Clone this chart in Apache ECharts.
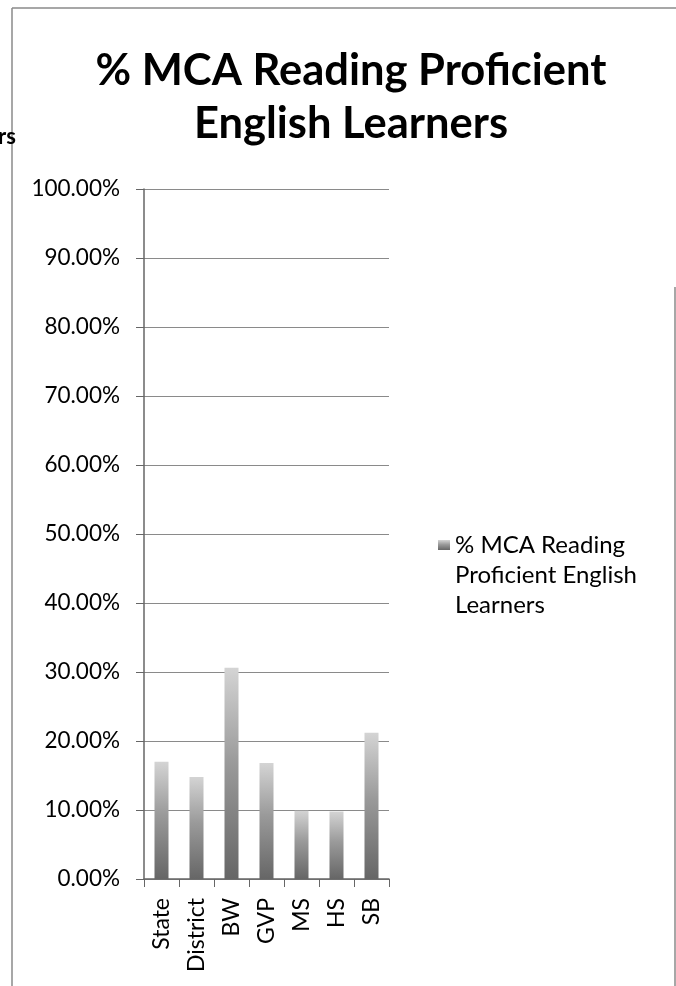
<!DOCTYPE html>
<html>
<head>
<meta charset="utf-8">
<script src="https://cdn.jsdelivr.net/npm/echarts@6/dist/echarts.min.js"></script>
<style>
html,body{margin:0;padding:0;background:#fff;}
#chart{width:676px;height:986px;}
</style>
</head>
<body>
<div id="chart"></div>
<script>
const categories = ['State', 'District', 'BW', 'GVP', 'MS', 'HS', 'SB'];
const values = [0.170, 0.148, 0.306, 0.168, 0.099, 0.098, 0.212];
const seriesName = '% MCA Reading Proficient English Learners';
const titleText = '% MCA Reading Proficient\nEnglish Learners';
const legendText = '% MCA Reading\nProficient English\nLearners';

const FONT = 'Lato, "Open Sans", sans-serif';
const chart = echarts.init(document.getElementById('chart'), null, {renderer: 'canvas'});

chart.setOption({
  backgroundColor: '#ffffff',
  animation: false,
  title: {
    text: titleText,
    left: 346,
    textAlign: 'center',
    top: 39,
    textStyle: {
      fontFamily: FONT,
      fontWeight: 'bold',
      fontSize: 43.5,
      lineHeight: 53,
      color: '#000'
    }
  },
  legend: {
    orient: 'vertical',
    left: 438,
    top: 470,
    padding: 0,
    icon: 'rect',
    itemWidth: 12,
    itemHeight: 10,
    formatter: () => '\n\n' + legendText,
    textStyle: {
      fontFamily: FONT,
      fontSize: 24,
      lineHeight: 30,
      color: '#000'
    },
    data: [seriesName]
  },
  grid: {
    left: 144,
    right: 287,
    top: 189,
    bottom: 107,
    containLabel: false
  },
  xAxis: {
    type: 'category',
    data: categories,
    axisLine: {lineStyle: {color: '#666', width: 1.5}},
    axisTick: {show: true, length: 8, lineStyle: {color: '#666'}},
    axisLabel: {
      rotate: 90,
      margin: 19,
      fontFamily: FONT,
      fontSize: 23,
      color: '#000'
    }
  },
  yAxis: {
    type: 'value',
    min: 0,
    max: 1,
    interval: 0.1,
    axisLine: {show: true, lineStyle: {color: '#666', width: 1.5}},
    axisTick: {show: true, length: 8, lineStyle: {color: '#666'}},
    splitLine: {show: true, lineStyle: {color: '#8a8a8a', width: 1.2}},
    axisLabel: {
      margin: 24,
      fontFamily: FONT,
      fontSize: 22.5,
      color: '#000',
      formatter: v => (v * 100).toFixed(2) + '%'
    }
  },
  series: [{
    name: seriesName,
    type: 'bar',
    data: values,
    barWidth: 14,
    itemStyle: {
      color: new echarts.graphic.LinearGradient(0, 0, 0, 1, [
        {offset: 0, color: '#d4d4d4'},
        {offset: 0.45, color: '#9a9a9a'},
        {offset: 1, color: '#666666'}
      ])
    }
  }],
  graphic: [
    {type: 'line', shape: {x1: 12, y1: 8, x2: 676, y2: 8}, style: {stroke: '#8a8a8a', lineWidth: 1.5}},
    {type: 'line', shape: {x1: 12, y1: 8, x2: 12, y2: 986}, style: {stroke: '#8a8a8a', lineWidth: 1.5}},
    {type: 'line', shape: {x1: 675, y1: 287, x2: 675, y2: 986}, style: {stroke: '#8a8a8a', lineWidth: 1.5}},
    {type: 'text', left: -2, top: 126, style: {text: 'rs', fontFamily: FONT, fontSize: 22, fontWeight: 'bold', fill: '#000'}}
  ]
});
</script>
</body>
</html>
